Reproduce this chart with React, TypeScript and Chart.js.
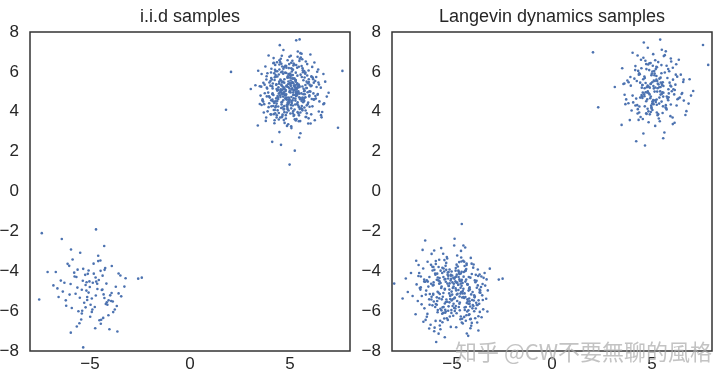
import { useEffect, useRef } from "react";
import { Chart, registerables } from "chart.js";

Chart.register(...registerables);

const titles = ["i.i.d samples", "Langevin dynamics samples"];
const xTickValues = [-5, 0, 5];
const axisMin = -8;
const axisMax = 8;
const yStep = 2;
const watermark = "知乎 @CW不要無聊的風格";

// i.i.d samples, mode near (5, 5)
const iidUpper: number[][] = [
[5.23,5.66],[4.13,5.17],[4.59,3.73],[6.18,4.61],[5.65,5.98],[3.27,5.33],[4.96,4.48],[5.91,3.41],[5.48,5.24],[4.67,7.10],
[4.62,4.21],[5.37,4.86],[6.42,5.47],[4.81,6.29],[3.95,4.77],[5.14,3.92],[5.08,5.12],[4.28,5.84],[4.47,2.98],[6.67,4.38],
[5.79,6.52],[4.91,5.39],[3.62,4.56],[5.31,4.93],[5.02,5.71],[4.36,6.03],[4.74,4.87],[5.56,4.17],[6.04,5.28],[4.52,5.62],
[4.19,3.88],[5.72,4.69],[5.39,7.02],[3.84,5.21],[4.88,4.12],[6.93,4.95],[5.17,5.43],[4.05,5.97],[4.41,4.64],[5.29,3.56],
[5.84,5.19],[4.57,6.41],[5.05,4.33],[5.97,4.82],[5.11,6.14],[3.49,5.28],[4.23,3.57],[5.46,2.71],[6.31,5.74],[4.79,5.09],
[4.66,4.91],[6.12,4.27],[5.27,5.55],[4.97,6.76],[3.71,4.38],[5.63,4.71],[5.36,6.21],[4.31,5.35],[4.84,3.96],[5.07,4.54],
[5.53,5.86],[4.46,5.51],[4.12,4.61],[6.55,3.83],[5.19,5.31],[4.71,6.24],[4.93,4.06],[5.88,4.98],[6.22,6.47],[3.04,5.14],
[4.38,4.79],[5.42,3.91],[5.71,5.03],[4.89,5.78],[4.55,2.34],[5.09,4.44],[5.01,5.92],[3.93,6.82],[4.27,4.22],[6.39,4.89],
[5.34,5.37],[4.76,5.96],[3.39,3.31],[5.67,4.61],[5.93,6.07],[4.42,5.23],[4.84,4.71],[5.24,3.62],[5.12,5.67],[4.07,6.16],
[4.61,4.49],[6.02,5.01],[5.58,6.91],[4.99,5.44],[4.19,4.09],[5.81,3.74],[6.76,5.51],[4.53,5.08],[4.96,4.55],[5.45,4.23],
[5.03,5.81],[4.35,6.48],[4.63,3.86],[5.16,4.96],[5.77,5.34],[3.82,5.62],[4.78,4.83],[6.47,4.52],[5.21,6.37],[4.68,5.19],
[3.58,4.34],[5.62,4.07],[5.41,5.22],[4.92,5.89],[4.31,4.67],[5.06,3.27],[6.08,5.74],[4.14,5.42],[4.72,3.98],[5.33,4.81],
[5.49,6.66],[4.83,5.27],[3.96,4.43],[6.21,4.62],[5.18,5.06],[4.49,7.34],[4.87,4.19],[5.74,4.88],[5.94,5.49],[4.24,5.73],
[4.44,3.61],[5.26,4.36],[5.09,6.02],[3.67,5.45],[4.58,4.94],[5.52,2.92],[5.39,5.28],[4.94,6.19],[4.16,4.29],[6.61,3.99],
[5.67,5.58],[4.21,5.93],[4.81,4.64],[5.13,4.57],[6.11,6.25],[4.64,5.11],[4.33,3.71],[5.84,4.32],[5.31,7.58],[3.73,5.36],
[4.69,4.98],[5.47,4.91],[5.04,5.42],[4.47,6.58],[3.88,4.02],[5.21,3.84],[5.76,5.91],[4.97,5.17],[4.52,4.74],[6.29,4.66],
[5.15,6.11],[4.02,5.54],[4.73,3.44],[5.61,4.14],[5.26,5.11],[4.77,6.31],[3.53,4.81],[5.38,4.47],[6.45,5.37],[4.29,5.76],
[4.86,4.26],[5.93,3.67],[5.54,6.72],[4.58,5.32],[4.66,4.58],[5.03,4.97],[5.12,5.49],[4.39,5.08],[4.11,2.49],[6.84,4.76],
[5.37,5.81],[4.62,6.02],[4.91,4.37],[5.46,4.72],[5.82,5.19],[3.41,6.06],[4.44,4.91],[5.18,3.79],[5.06,6.46],[4.84,5.29],
[4.26,3.92],[5.71,4.54],[6.16,5.63],[4.73,5.14],[4.95,4.46],[5.59,4.29],[5.23,5.25],[4.18,6.69],[3.79,3.54],[5.97,5.02],
[5.44,5.36],[4.87,5.71],[4.51,4.83],[6.03,3.41],[5.63,6.18],[4.54,5.57],[4.68,4.11],[5.27,4.66],[5.09,5.83],[3.97,5.47],
[4.39,4.72],[5.14,4.31],[5.86,6.39],[4.99,5.04],[4.07,4.27],[6.38,4.85],[5.33,5.12],[4.61,6.27],[4.79,3.83],[5.42,4.94],
[6.26,5.54],[4.32,5.38],[3.63,4.62],[5.52,3.96],[5.04,6.81],[4.91,5.24],[4.57,4.47],[5.78,4.06],[5.47,5.29],[4.56,5.98],
[4.14,4.53],[5.31,4.79],[5.19,5.67],[4.25,6.11],[4.85,3.29],[5.69,4.58],[5.89,5.43],[3.86,5.16],[4.62,4.88],[5.06,4.17],
[5.58,6.29],[4.71,5.46],[4.03,3.87],[6.71,4.42],[5.21,5.09],[4.97,5.85],[4.36,4.54],[5.44,3.52],[6.07,5.78],[4.47,6.37],
[4.76,4.67],[5.16,4.84],[5.35,5.19],[4.09,5.62],[3.84,4.77],[5.98,4.25],[5.12,6.56],[4.83,5.31],[4.24,4.09],[5.29,4.99],
[5.73,5.72],[4.41,5.11],[4.89,4.42],[5.51,4.63],[5.29,5.51],[4.17,6.43],[4.51,3.71],[6.17,4.92],[5.64,6.08],[3.56,5.26],
[4.92,4.59],[5.38,3.98],[5.02,5.36],[4.66,5.91],[4.29,4.29],[5.77,4.73],[5.48,7.63],[4.58,5.06],[4.98,1.35],[5.24,2.05],
[5.12,5.46],[4.71,5.22],[4.41,4.26],[5.58,4.54],[5.94,5.63],[4.06,5.69],[4.62,3.79],[5.36,4.38],[6.41,6.12],[4.88,6.58],
[4.17,4.84],[5.78,3.74],[5.29,5.96],[4.44,5.87],[3.69,3.96],[6.27,4.79],[5.61,6.63],[3.91,4.96],[4.98,4.62],[5.07,3.18],
[5.42,5.02],[4.59,6.81],[4.26,4.52],[6.54,5.21],[5.18,6.42],[4.33,5.14],[4.79,3.66],[5.72,4.21],[5.98,5.36],[3.77,6.27],
[4.52,4.99],[5.91,4.46],[5.25,5.33],[4.64,5.51],[4.06,4.58],[5.45,3.82],[6.36,6.01],[4.12,4.88],[4.84,4.33],[5.61,4.62],
[5.31,6.34],[4.37,5.77],[3.81,3.71],[5.16,4.03],[5.68,5.15],[4.82,6.21],[4.49,4.96],[6.06,3.87],[5.03,5.57],[3.58,5.89],
[4.94,4.71],[5.53,4.69],[6.02,6.87],[4.57,5.36],[4.22,3.42],[5.34,5.01],[5.11,5.18],[4.28,6.03],[4.71,4.14],[6.19,5.46],
[5.86,5.82],[4.96,6.39],[4.38,4.07],[5.26,4.84],[5.47,6.55],[3.99,4.71],[4.69,3.58],[5.84,3.92],[6.67,5.89],[4.63,5.27],
[4.33,4.41],[5.07,4.74],[5.59,5.74],[4.77,5.03],[3.74,4.93],[6.44,4.01],[5.27,5.21],[4.54,6.66],[4.91,3.37],[5.39,4.96],
[5.71,6.04],[4.11,5.28],[4.66,4.76],[5.89,4.39],[5.36,5.43],[4.47,6.12],[3.49,4.39],[5.51,3.53],[6.14,5.71],[4.92,5.52],
[4.81,4.87],[5.23,4.11],[5.44,6.26],[4.19,6.46],[4.56,4.19],[6.09,4.64],[5.14,5.84],[4.72,5.63],[4.06,3.86],[5.66,4.48],
[5.04,5.29],[3.87,5.93],[4.83,4.61],[5.32,3.63],[6.33,5.24],[4.61,5.48],[4.44,3.94],[5.18,4.68],[5.52,6.94],[4.26,6.35],
[4.97,4.99],[5.67,4.88],[5.83,5.51],[4.54,5.13],[3.93,4.23],[5.41,4.31],[5.06,6.18],[4.02,5.31],[4.76,4.82],[6.58,3.72],
[5.29,5.59],[4.67,6.16],[4.13,4.93],[5.96,4.77],[5.13,5.67],[4.36,5.06],[4.89,4.47],[5.02,3.91],[5.77,5.97],[3.83,5.78],
[4.58,4.36],[5.49,4.14],[5.17,6.32],[4.93,5.72],[4.34,3.82],[5.73,5.07],[5.62,5.27],[4.46,5.41],[4.21,4.44],[5.27,4.56],
[6.08,5.32],[4.81,5.94],[3.66,4.51],[5.57,4.92],[5.38,6.76],[4.23,5.59],[4.71,4.28],[6.24,3.57],[5.09,5.14],[4.51,6.49],
[1.8,4.1],[2.05,6.0],[7.62,6.05],[7.4,3.2]
];

// i.i.d samples, mode near (-5, -5)
const iidLower: number[][] = [
[-4.72,-4.31],[-5.63,-4.82],[-5.41,-6.12],[-4.07,-5.46],[-3.91,-3.74],[-6.28,-4.58],[-5.14,-5.29],[-4.46,-6.63],[-4.38,-4.92],[-5.87,-3.41],
[-6.02,-5.17],[-3.66,-5.74],[-4.81,-4.12],[-5.22,-4.69],[-5.96,-7.08],[-3.28,-4.77],[-4.59,-3.22],[-5.34,-3.88],[-4.21,-5.64],[-4.88,-5.92],
[-5.03,-4.51],[-6.71,-4.04],[-5.51,-5.33],[-3.57,-5.11],[-4.29,-2.73],[-5.77,-4.26],[-4.99,-6.28],[-4.13,-5.68],[-4.64,-4.63],[-6.41,-2.38],
[-5.91,-5.84],[-4.03,-6.91],[-3.48,-4.21],[-5.18,-4.97],[-5.44,-6.42],[-4.71,-5.22],[-4.27,-3.93],[-7.54,-5.42],[-5.07,-5.07],[-3.84,-6.05],
[-4.56,-4.44],[-6.12,-3.63],[-5.29,-5.58],[-4.34,-6.34],[-3.71,-4.78],[-5.68,-4.29],[-5.34,-7.82],[-4.91,-5.37],[-4.47,-3.98],[-5.49,-3.07],
[-6.36,-5.02],[-3.94,-5.49],[-4.18,-4.62],[-5.11,-4.13],[-5.66,-6.77],[-4.63,-4.89],[-2.59,-4.37],[-6.83,-4.71],[-5.22,-5.81],[-4.08,-6.21],
[-4.82,-3.62],[-5.36,-4.48],[-4.97,-5.68],[-3.44,-5.26],[-4.37,-4.22],[-7.12,-4.04],[-5.58,-6.01],[-4.76,-5.79],[-3.22,-4.35],[-5.95,-2.91],
[-6.57,-5.29],[-4.44,-6.43],[-4.24,-3.84],[-5.41,-4.93],[-5.14,-5.44],[-3.63,-7.02],[-4.69,-4.52],[-6.04,-3.73],[-5.72,-5.13],[-4.16,-5.56],
[-5.01,-4.79],[-5.79,-4.07],[-3.86,-5.52],[-4.53,-6.46],[-2.41,-4.32],[-6.63,-4.86],[-4.91,-6.04],[-4.32,-5.16],[-4.59,-3.49],[-5.24,-4.18],
[-6.19,-5.73],[-3.76,-5.92],[-4.86,-4.58],[-5.07,-3.96],[-5.53,-6.61],[-4.41,-4.94],[-3.57,-4.11],[-6.46,-4.47],[-5.39,-5.98],[-4.28,-5.34],
[-5.17,-4.55],[-5.97,-4.64],[-3.99,-5.21],[-4.74,-6.86],[-4.48,-3.46],[-5.62,-3.92],[-6.21,-5.46],[-3.92,-5.09],[-7.41,-2.09],[-4.7,-1.9]
];

// Langevin dynamics samples, mode near (5, 5)
const langevinUpper: number[][] = [
[5.43,5.71],[4.52,5.34],[4.71,3.92],[6.27,4.63],[5.81,6.14],[3.62,5.42],[5.02,4.51],[6.04,3.38],[5.57,5.29],[4.79,7.21],
[4.64,4.27],[5.49,4.89],[6.58,5.61],[4.93,6.44],[4.03,4.81],[5.24,3.96],[5.17,5.22],[4.36,5.93],[4.57,2.91],[6.83,4.41],
[5.94,6.67],[5.01,5.48],[3.71,4.62],[5.41,5.02],[5.12,5.83],[4.47,6.18],[4.84,4.93],[5.68,4.21],[6.17,5.36],[4.62,5.77],
[4.28,3.91],[5.83,4.73],[5.49,7.11],[3.94,5.31],[4.98,4.16],[7.06,5.04],[5.26,5.54],[4.16,6.09],[4.52,4.69],[5.39,3.52],
[5.96,5.27],[4.67,6.56],[5.08,4.38],[6.11,4.87],[5.22,6.26],[3.57,5.39],[4.33,3.59],[5.56,2.67],[6.44,5.86],[4.89,5.21],
[4.76,4.97],[6.23,4.31],[5.37,5.66],[5.06,6.89],[3.82,4.43],[5.74,4.76],[5.47,6.34],[4.41,5.46],[4.94,3.99],[5.16,4.58],
[5.64,5.97],[4.56,5.63],[4.21,4.66],[6.67,3.84],[5.29,5.41],[4.81,6.37],[5.02,4.09],[5.99,5.03],[6.34,6.61],[3.14,5.24],
[4.48,4.84],[5.53,3.94],[5.82,5.13],[4.99,5.91],[4.65,2.31],[5.19,4.49],[5.11,6.04],[4.03,6.96],[4.37,4.26],[6.51,4.94],
[5.44,5.47],[4.86,6.09],[3.48,3.34],[5.78,4.66],[6.04,6.21],[4.52,5.34],[4.94,4.76],[5.34,3.66],[5.22,5.79],[4.17,6.29],
[4.71,4.53],[6.14,5.09],[5.69,7.03],[5.09,5.56],[4.29,4.13],[5.92,3.78],[6.88,5.63],[4.63,5.18],[5.06,4.59],[5.55,4.27],
[5.13,5.92],[4.45,6.61],[4.73,3.89],[5.26,5.01],[5.88,5.46],[3.92,5.74],[4.88,4.87],[6.59,4.56],[5.31,6.49],[4.78,5.31],
[3.67,4.38],[5.73,4.11],[5.51,5.34],[5.02,6.02],[4.41,4.71],[5.16,3.29],[6.19,5.86],[4.24,5.54],[4.82,4.02],[5.43,4.86],
[5.59,6.79],[4.93,5.39],[4.06,4.47],[6.32,4.66],[5.28,5.18],[4.59,7.47],[4.97,4.23],[5.84,4.92],[6.05,5.61],[4.34,5.86],
[4.54,3.64],[5.36,4.41],[5.19,6.14],[3.77,5.57],[4.68,4.98],[5.62,2.96],[5.49,5.39],[5.04,6.31],[4.26,4.33],[6.72,4.03],
[5.77,5.69],[4.31,6.05],[4.91,4.68],[5.23,4.61],[6.21,6.38],[4.74,5.23],[4.43,3.74],[5.94,4.36],[5.41,7.62],[3.83,5.48],
[4.79,5.02],[5.57,4.95],[5.14,5.54],[4.57,6.71],[3.98,4.06],[5.31,3.88],[5.86,6.03],[5.07,5.29],[4.62,4.78],[6.39,4.71],
[5.25,6.23],[4.12,5.66],[4.83,3.47],[5.71,4.18],[5.36,5.23],[4.87,6.43],[3.63,4.85],[5.48,4.51],[6.56,5.49],[4.39,5.88],
[4.96,4.31],[6.03,3.71],[5.64,6.84],[4.68,5.44],[4.76,4.62],[5.13,5.01],[5.22,5.61],[4.49,5.21],[4.21,2.52],[6.95,4.81],
[5.47,5.93],[4.72,6.14],[5.01,4.41],[5.56,4.76],[5.92,5.31],[3.51,6.18],[4.54,4.96],[5.28,3.83],[5.16,6.58],[4.94,5.41],
[4.36,3.96],[5.81,4.58],[6.26,5.76],[4.83,5.26],[5.05,4.51],[5.69,4.33],[5.33,5.37],[4.28,6.82],[3.89,3.58],[6.07,5.13],
[5.54,5.48],[4.97,5.83],[4.61,4.87],[6.13,3.45],[5.73,6.31],[4.64,5.69],[4.78,4.15],[5.37,4.71],[7.81,6.35],[2.31,4.22],
[4.49,4.77],[5.24,4.35],[5.96,6.52],[5.09,5.17],[4.17,4.31],[6.48,4.89],[5.43,5.24],[4.71,6.39],[4.89,3.87],[5.52,4.98],
[2.05,6.98],[7.55,7.35]
];

// Langevin dynamics samples, mode near (-5, -5)
const langevinLower: number[][] = [
[-4.63,-4.41],[-5.52,-4.77],[-5.34,-6.08],[-4.12,-5.51],[-3.94,-3.82],[-6.21,-4.52],[-5.09,-5.24],[-4.51,-6.57],[-4.43,-4.88],[-5.81,-3.49],
[-5.94,-5.13],[-3.72,-5.69],[-4.76,-4.17],[-5.17,-4.73],[-5.89,-7.01],[-3.34,-4.72],[-4.54,-3.31],[-5.29,-3.93],[-4.26,-5.59],[-4.83,-5.87],
[-4.98,-4.56],[-6.64,-4.09],[-5.46,-5.28],[-3.62,-5.06],[-4.34,-2.81],[-5.71,-4.31],[-4.94,-6.23],[-4.18,-5.63],[-4.69,-4.68],[-6.34,-2.46],
[-5.84,-5.79],[-4.08,-6.86],[-3.53,-4.26],[-5.13,-4.92],[-5.39,-6.37],[-4.76,-5.17],[-4.32,-3.98],[-7.47,-5.37],[-5.02,-5.02],[-3.89,-6.01],
[-4.61,-4.49],[-6.05,-3.68],[-5.24,-5.53],[-4.39,-6.29],[-3.76,-4.83],[-5.62,-4.34],[-5.79,-7.55],[-4.86,-5.32],[-4.52,-4.03],[-5.44,-3.12],
[-6.29,-4.97],[-3.99,-5.44],[-4.23,-4.67],[-5.06,-4.18],[-5.61,-6.72],[-4.68,-4.94],[-2.66,-4.42],[-6.77,-4.66],[-5.17,-5.76],[-4.13,-6.16],
[-4.77,-3.67],[-5.31,-4.53],[-4.92,-5.63],[-3.49,-5.21],[-4.42,-4.27],[-7.05,-4.09],[-5.53,-5.96],[-4.81,-5.74],[-3.27,-4.41],[-5.89,-2.96],
[-6.51,-5.24],[-4.49,-6.38],[-4.29,-3.89],[-5.36,-4.88],[-5.09,-5.39],[-3.68,-6.97],[-4.74,-4.57],[-5.98,-3.78],[-5.67,-5.08],[-4.21,-5.51],
[-4.96,-4.84],[-5.74,-4.12],[-3.91,-5.47],[-4.58,-6.41],[-2.47,-4.37],[-6.56,-4.81],[-4.86,-5.99],[-4.37,-5.11],[-4.64,-3.54],[-5.19,-4.23],
[-6.12,-5.68],[-3.81,-5.87],[-4.91,-4.63],[-5.02,-4.01],[-5.48,-6.56],[-4.46,-4.99],[-3.62,-4.16],[-6.39,-4.52],[-5.34,-5.93],[-4.33,-5.29],
[-5.12,-4.61],[-5.92,-4.69],[-4.04,-5.16],[-4.79,-6.81],[-4.53,-3.51],[-5.57,-3.97],[-6.14,-5.41],[-3.97,-5.04],[-7.89,-4.62],[-4.51,-1.63],
[-4.21,-4.67],[-5.29,-3.58],[-6.03,-5.42],[-3.61,-6.04],[-4.82,-3.97],[-5.96,-4.71],[-5.47,-5.81],[-4.58,-5.12],[-3.77,-4.48],[-4.66,-4.03],
[-6.44,-3.86],[-5.11,-6.27],[-4.31,-5.79],[-4.89,-2.71],[-5.06,-4.22],[-5.72,-5.03],[-3.29,-5.38],[-4.12,-4.81],[-5.38,-3.44],[-6.82,-6.16],
[-4.04,-6.73],[-4.47,-4.59],[-5.84,-4.11],[-5.13,-5.56],[-3.86,-5.27],[-4.74,-3.21],[-6.26,-4.46],[-5.59,-6.48],[-4.36,-5.94],[-3.42,-4.33],
[-5.21,-4.06],[-4.99,-5.17],[-4.09,-6.41],[-4.62,-4.14],[-6.61,-4.84],[-5.67,-7.13],[-3.96,-5.69],[-4.27,-3.69],[-5.04,-4.38],[-5.44,-6.09],
[-3.58,-5.08],[-4.79,-4.27],[-5.93,-3.79],[-6.38,-5.86],[-4.46,-6.62],[-3.71,-4.71],[-5.36,-4.92],[-5.02,-5.47],[-4.17,-4.97],[-4.55,-2.98],
[-6.13,-4.29],[-5.76,-5.31],[-3.52,-6.31],[-4.39,-3.52],[-5.57,-4.59],[-6.97,-5.24],[-4.88,-5.36],[-4.29,-4.42],[-5.12,-3.91],[-5.87,-6.83],
[-3.93,-5.74],[-4.01,-4.14],[-6.47,-2.93],[-5.31,-6.02],[-4.54,-5.04],[-4.92,-4.77],[-5.68,-4.46],[-5.19,-5.98],[-3.74,-6.57],[-3.11,-3.87],
[-4.83,-4.51],[-6.23,-6.14],[-4.63,-5.63],[-4.14,-4.86],[-5.24,-3.36],[-6.02,-5.28],[-3.84,-6.36],[-4.71,-3.76],[-5.54,-4.84],[-5.91,-5.52],
[-4.26,-7.12],[-3.47,-4.64],[-5.39,-4.01],[-4.97,-5.74],[-4.72,-5.13],[-4.44,-3.47],[-6.68,-4.24],[-5.06,-6.79],[-3.67,-5.46],[-4.88,-4.37],
[-5.81,-3.64],[-6.11,-5.14],[-4.16,-6.19],[-4.53,-4.49],[-5.49,-4.09],[-5.26,-6.36],[-3.89,-5.21],[-4.06,-3.33],[-5.16,-4.74],[-6.52,-5.66],
[-4.37,-5.82],[-3.69,-4.24],[-5.97,-3.96],[-5.43,-5.09],[-4.61,-5.57],[-4.24,-4.64],[-6.34,-4.53],[-5.72,-6.06],[-3.23,-6.02],[-4.87,-2.37],
[-5.07,-4.46],[-5.58,-5.88],[-4.43,-5.29],[-3.81,-4.18],[-5.32,-3.73],[-6.43,-6.53],[-4.19,-7.24],[-4.67,-4.29],[-5.64,-4.63],[-5.28,-5.42],
[-3.98,-5.86],[-4.78,-4.57],[-6.79,-3.47],[-5.98,-5.71],[-4.11,-4.92],[-4.34,-3.99],[-5.22,-4.17],[-6.07,-6.68],[-4.49,-5.32],[-3.55,-4.79],
[-5.42,-3.86],[-5.03,-5.94],[-4.56,-6.27],[-4.93,-4.33],[-6.18,-4.77],[-5.64,-5.36],[-3.79,-5.58],[-4.02,-3.62],[-4.99,-4.21],[-6.32,-6.44],
[-4.23,-5.41],[-3.86,-4.46],[-5.54,-2.84],[-5.36,-5.62],[-4.66,-5.79],[-4.56,-4.11],[-5.88,-3.93],[-6.71,-5.49],[-3.68,-6.26],[-4.31,-3.94],
[-5.33,-4.39],[-6.14,-6.87],[-4.14,-5.37],[-4.69,-4.68],[-5.76,-4.43],[-5.09,-5.22],[-3.44,-5.91],[-4.41,-4.04],[-5.26,-3.29],[-5.49,-6.13],
[-4.74,-5.49],[-4.08,-4.32],[-6.56,-4.26],[-5.81,-5.64],[-4.31,-6.48],[-3.92,-3.66],[-5.62,-4.51],[-5.94,-5.18],[-4.47,-5.11],[-4.82,-4.86],
[-4.56,-4.62],[-5.43,-4.29],[-5.76,-5.68],[-4.28,-6.21],[-3.71,-3.91],[-6.04,-4.63],[-5.21,-6.44],[-4.39,-5.34],[-4.64,-4.11],[-5.67,-3.79],
[-5.51,-5.41],[-3.87,-5.31],[-4.81,-3.84],[-5.37,-4.41],[-6.26,-6.28],[-3.62,-4.92],[-4.43,-2.71],[-5.92,-4.56],[-4.09,-5.77],[-4.77,-6.11],
[-4.86,-4.31],[-6.39,-4.42],[-5.61,-5.14],[-3.46,-5.44],[-4.27,-3.61],[-5.48,-3.83],[-5.03,-6.09],[-4.18,-5.96],[-4.52,-4.73],[-6.67,-3.69],
[-5.71,-5.94],[-4.01,-6.59],[-3.83,-4.55],[-5.23,-4.62],[-5.58,-6.91],[-4.62,-5.27],[-4.16,-4.29],[-7.21,-5.04],[-5.14,-5.11],[-3.76,-5.69],
[-4.79,-4.96],[-6.22,-3.52],[-5.42,-5.79],[-4.24,-6.02],[-3.59,-4.96],[-5.83,-4.17],[-5.36,-7.31],[-4.97,-5.41],[-4.37,-3.74],[-5.64,-3.42],
[-6.31,-5.17],[-4.12,-5.63],[-4.33,-4.52],[-5.17,-4.04],[-5.82,-6.49],[-4.57,-4.83],[-3.21,-4.96],[-6.58,-4.92],[-5.31,-5.54],[-4.06,-6.39],
[-4.68,-3.97],[-5.19,-4.36],[-4.89,-5.84],[-3.64,-5.63],[-4.51,-4.43],[-7.31,-4.36],[-5.74,-5.49],[-4.61,-5.96],[-3.37,-4.09],[-6.02,-3.13]
];

const FONT = "'Liberation Sans', Arial, 'DejaVu Sans', sans-serif";
const TEXT_COLOR = "#262626";
const POINT_COLOR = "#4c72b0";

const fmt = (v: number | string) => {
  const n = Number(v);
  return n < 0 ? "\u2212" + Math.abs(n) : String(n);
};

const framePlugin = {
  id: "frame",
  afterDraw(chart: any) {
    const { ctx, chartArea: a } = chart;
    ctx.save();
    ctx.strokeStyle = "#333333";
    ctx.lineWidth = 1.5;
    ctx.strokeRect(a.left, a.top, a.right - a.left, a.bottom - a.top);
    ctx.restore();
  },
};

function Panel(props: { title: string; clusters: number[][][]; left: number; axisWidth: number; padRight: number }) {
  const ref = useRef<HTMLCanvasElement>(null);
  useEffect(() => {
    const chart = new Chart(ref.current as HTMLCanvasElement, {
      type: "scatter",
      data: {
        datasets: props.clusters.map((c) => ({
          data: c.map(([x, y]) => ({ x, y })),
          backgroundColor: POINT_COLOR,
          borderWidth: 0,
          pointRadius: 1.3,
          pointHoverRadius: 1.3,
        })),
      },
      options: {
        responsive: false,
        animation: false,
        events: [],
        layout: { padding: { top: 0, left: 0, right: props.padRight, bottom: 0 } },
        plugins: {
          legend: { display: false },
          tooltip: { enabled: false },
          title: {
            display: true,
            text: props.title,
            fullSize: false,
            color: TEXT_COLOR,
            font: { family: FONT, size: 18, weight: "normal", lineHeight: 1.2 },
            padding: { top: 6, bottom: 4.4 },
          },
        },
        scales: {
          x: {
            type: "linear",
            min: axisMin,
            max: axisMax,
            grid: { display: false, drawTicks: false },
            border: { display: false },
            afterBuildTicks: (s: any) => {
              s.ticks = xTickValues.map((v) => ({ value: v }));
            },
            afterFit: (s: any) => {
              s.height = 27;
            },
            ticks: {
              color: TEXT_COLOR,
              font: { family: FONT, size: 17 },
              padding: 3,
              maxRotation: 0,
              autoSkip: false,
              callback: fmt,
            },
          },
          y: {
            type: "linear",
            min: axisMin,
            max: axisMax,
            grid: { display: false, drawTicks: false },
            border: { display: false },
            afterFit: (s: any) => {
              s.width = props.axisWidth;
            },
            ticks: {
              stepSize: yStep,
              color: TEXT_COLOR,
              font: { family: FONT, size: 17 },
              padding: 11,
              autoSkip: false,
              callback: fmt,
            },
          },
        },
      } as any,
      plugins: [framePlugin],
    });
    return () => chart.destroy();
  }, []);
  return (
    <canvas
      ref={ref}
      width={360}
      height={378}
      style={{ position: "absolute", left: props.left, top: 0, width: 360, height: 378 }}
    />
  );
}

export default function App() {
  return (
    <div style={{ position: "fixed", left: 0, top: 0, width: 720, height: 378, background: "#ffffff", overflow: "hidden" }}>
      <Panel title={titles[0]} clusters={[iidUpper, iidLower]} left={0} axisWidth={30} padRight={10} />
      <Panel title={titles[1]} clusters={[langevinUpper, langevinLower]} left={360} axisWidth={32} padRight={8} />
      <div
        style={{
          position: "absolute",
          left: 455,
          top: 337,
          fontFamily: "'Noto Sans CJK SC', sans-serif",
          fontSize: 22,
          lineHeight: "26px",
          whiteSpace: "nowrap",
          color: "rgba(170,170,170,0.7)",
        }}
      >
        {watermark}
      </div>
    </div>
  );
}
